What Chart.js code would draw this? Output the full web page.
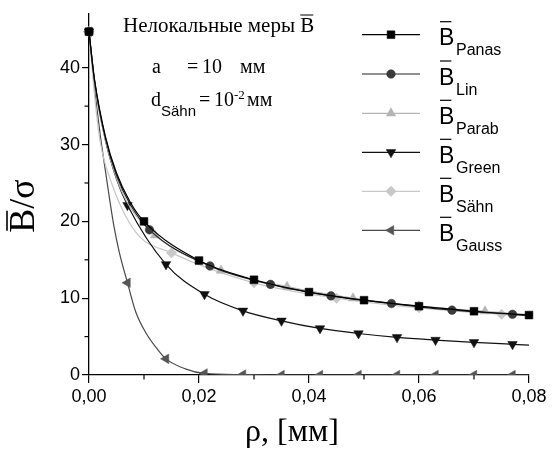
<!DOCTYPE html>
<html>
<head>
<meta charset="utf-8">
<script src="https://cdn.jsdelivr.net/npm/chart.js@4.4.1/dist/chart.umd.min.js"></script>
<style>
  html, body { margin: 0; padding: 0; background: #fff; }
  canvas { display: block; }
</style>
</head>
<body>
<canvas id="chart" width="552" height="453"></canvas>
<script>
// values (rho in mm, B/sigma)
const panasRho = [0, 0.001, 0.003, 0.005, 0.0075, 0.01, 0.02, 0.03, 0.04, 0.05, 0.06, 0.07, 0.08];
const panasVal = [44.7, 38.5, 31.0, 26.3, 22.5, 20.0, 14.9, 12.4, 10.8, 9.74, 8.96, 8.3, 7.8];
const panasMarks = [0, 0.01, 0.02, 0.03, 0.04, 0.05, 0.06, 0.07, 0.08];

const linRho = [0, 0.001, 0.003, 0.005, 0.0075, 0.011, 0.022, 0.033, 0.044, 0.055, 0.066, 0.077, 0.08];
const linVal = [44.7, 38.3, 30.8, 26.0, 22.2, 18.9, 14.2, 11.8, 10.3, 9.3, 8.44, 7.9, 7.75];
const linMarks = [0, 0.011, 0.022, 0.033, 0.044, 0.055, 0.066, 0.077];

const parabRho = [0, 0.001, 0.003, 0.005, 0.0075, 0.012, 0.024, 0.036, 0.048, 0.06, 0.072, 0.08];
const parabVal = [44.7, 38.0, 30.5, 25.6, 21.8, 18.2, 13.6, 11.5, 10.0, 8.96, 8.3, 7.85];
const parabMarks = [0, 0.012, 0.024, 0.036, 0.048, 0.06, 0.072];

const greenRho = [0, 0.001, 0.003, 0.005, 0.007, 0.014, 0.021, 0.028, 0.035, 0.042, 0.049, 0.056, 0.063, 0.07, 0.077, 0.08];
const greenVal = [44.7, 38.3, 30.5, 25.5, 22.1, 14.4, 10.5, 8.35, 7.05, 6.06, 5.4, 4.9, 4.55, 4.25, 4.0, 3.9];
const greenMarks = [0, 0.007, 0.014, 0.021, 0.028, 0.035, 0.042, 0.049, 0.056, 0.063, 0.07, 0.077];

const saehnRho = [0, 0.001, 0.002, 0.004, 0.0085, 0.015, 0.03, 0.045, 0.06, 0.075, 0.08];
const saehnVal = [44.7, 36.5, 30.5, 25.2, 18.6, 15.9, 12.0, 10.0, 8.74, 7.9, 7.7];
const saehnMarks = [0, 0.015, 0.03, 0.045, 0.06, 0.075];

const gaussRho = [0, 0.001, 0.002, 0.003, 0.0045, 0.0055, 0.007, 0.0085, 0.0105, 0.0125, 0.014, 0.0175, 0.021, 0.028, 0.035, 0.042, 0.049, 0.056, 0.063, 0.07, 0.077, 0.08];
const gaussVal = [44.7, 37.5, 31.5, 26.5, 19.5, 16.0, 12.0, 8.2, 5.3, 3.3, 2.1, 0.8, 0.2, 0.05, 0, 0, 0, 0, 0, 0, 0, 0];
const gaussMarks = [0, 0.007, 0.014, 0.021, 0.028, 0.035, 0.042, 0.049, 0.056, 0.063, 0.07, 0.077];

const seriesNames = ['Panas', 'Lin', 'Parab', 'Green', 'Sähn', 'Gauss'];
const xTicks = [0, 0.02, 0.04, 0.06, 0.08];
const yTicks = [0, 10, 20, 30, 40];

// styles for each series
const styles = [
  { line: '#000000', fill: '#000000', shape: 'rect', rot: 0, r: 5.5 },
  { line: '#222222', fill: '#3a3a3a', shape: 'circle', rot: 0, r: 4.3 },
  { line: '#b4b4b4', fill: '#b4b4b4', shape: 'triangle', rot: 0, r: 5.5 },
  { line: '#111111', fill: '#111111', shape: 'triangle', rot: 180, r: 5.5 },
  { line: '#c8c8c8', fill: '#c8c8c8', shape: 'rectRot', rot: 0, r: 5.2 },
  { line: '#4a4a4a', fill: '#555555', shape: 'triangle', rot: -90, r: 5.5 }
];

const raw = [
  [panasRho, panasVal, panasMarks],
  [linRho, linVal, linMarks],
  [parabRho, parabVal, parabMarks],
  [greenRho, greenVal, greenMarks],
  [saehnRho, saehnVal, saehnMarks],
  [gaussRho, gaussVal, gaussMarks]
];

const datasets = raw.map(([rho, val, marks], i) => {
  const s = styles[i];
  return {
    label: seriesNames[i],
    data: rho.map((r, k) => ({ x: r, y: val[k] })),
    borderColor: s.line,
    borderWidth: 1.2,
    backgroundColor: s.fill,
    pointBackgroundColor: s.fill,
    pointBorderColor: s.fill,
    pointBorderWidth: 0.5,
    pointStyle: s.shape,
    pointRotation: s.rot,
    pointRadius: ctx => marks.includes(rho[ctx.dataIndex]) ? s.r : 0,
    cubicInterpolationMode: 'monotone',
    clip: { left: 10, top: 10, right: 10, bottom: 0 }
  };
});

const SERIF = '"Liberation Serif", "Times New Roman", serif';
const SANS = '"Liberation Sans", Arial, sans-serif';

const extras = {
  id: 'extras',
  afterDraw(chart) {
    const ctx = chart.ctx;
    const xs = chart.scales.x, ys = chart.scales.y;
    ctx.save();
    ctx.strokeStyle = '#000';
    ctx.lineWidth = 1.2;
    // minor ticks
    [0.01, 0.03, 0.05, 0.07].forEach(v => {
      const px = xs.getPixelForValue(v);
      ctx.beginPath(); ctx.moveTo(px, ys.bottom); ctx.lineTo(px, ys.bottom + 4.5); ctx.stroke();
    });
    [5, 15, 25, 35, 45].forEach(v => {
      const py = ys.getPixelForValue(v);
      ctx.beginPath(); ctx.moveTo(xs.left, py); ctx.lineTo(xs.left - 4.5, py); ctx.stroke();
    });

    ctx.fillStyle = '#000';
    ctx.textBaseline = 'alphabetic';

    // x title
    ctx.font = '32px ' + SERIF;
    ctx.textAlign = 'left';
    ctx.fillText('ρ, [мм]', 245, 441);

    // y title, rotated
    ctx.save();
    ctx.translate(34, 206);
    ctx.rotate(-Math.PI / 2);
    ctx.font = '36px ' + SERIF;
    const wAll = ctx.measureText('B/σ').width;
    const wB = ctx.measureText('B').width;
    ctx.textAlign = 'left';
    ctx.fillText('B/σ', -wAll / 2, 0);
    ctx.lineWidth = 1.6;
    ctx.beginPath(); ctx.moveTo(-wAll / 2 + 2, -27); ctx.lineTo(-wAll / 2 + wB - 2, -27); ctx.stroke();
    ctx.restore();

    // annotation block
    ctx.font = '21px ' + SERIF;
    ctx.textAlign = 'left';
    const head = 'Нелокальные меры ';
    ctx.fillText(head + 'B', 123, 32);
    const hx = 123 + ctx.measureText(head).width;
    const hb = ctx.measureText('B').width;
    ctx.lineWidth = 1;
    ctx.beginPath(); ctx.moveTo(hx, 15); ctx.lineTo(hx + hb - 1, 15); ctx.stroke();

    ctx.font = '20px ' + SERIF;
    ctx.fillText('a', 152, 73);
    ctx.fillText('=', 187, 73);
    ctx.fillText('10', 202, 73);
    ctx.fillText('мм', 240, 73);

    ctx.fillText('d', 151, 106);
    ctx.font = '15px ' + SANS;
    ctx.fillText('Sähn', 161, 116);
    ctx.font = '20px ' + SERIF;
    ctx.fillText('=', 199, 106);
    ctx.fillText('10', 214, 106);
    ctx.font = '13px ' + SERIF;
    ctx.fillText('-2', 234, 99);
    ctx.font = '20px ' + SERIF;
    ctx.fillText('мм', 247, 106);

    // legend
    const rowY = [34.7, 74, 113.3, 152.3, 191.3, 230.3];
    chart.data.datasets.forEach((ds, i) => {
      const s = styles[i];
      const y = rowY[i];
      ctx.strokeStyle = s.line;
      ctx.lineWidth = 1.2;
      ctx.beginPath(); ctx.moveTo(362, y); ctx.lineTo(420, y); ctx.stroke();
      ctx.fillStyle = s.fill;
      ctx.strokeStyle = s.fill;
      ctx.lineWidth = 0.5;
      Chart.helpers.drawPoint(ctx, { pointStyle: s.shape, rotation: s.rot, radius: s.r, borderWidth: 0.5 }, 391, y);
      ctx.fillStyle = '#000';
      ctx.strokeStyle = '#000';
      ctx.font = '23px ' + SANS;
      ctx.fillText('B', 439, y + 10.5);
      const bw = ctx.measureText('B').width;
      ctx.lineWidth = 1.2;
      ctx.beginPath(); ctx.moveTo(440, y - 13); ctx.lineTo(440 + bw - 4, y - 13); ctx.stroke();
      ctx.font = '16px ' + SANS;
      ctx.fillText(ds.label, 456, y + 20.5);
    });
    ctx.restore();
  }
};

const fmt = v => Number(v).toFixed(2).replace('.', ',');

new Chart(document.getElementById('chart'), {
  type: 'line',
  data: { datasets },
  options: {
    responsive: false,
    animation: false,
    events: [],
    layout: { padding: { left: 0, right: 23, top: 14, bottom: 0 } },
    plugins: { legend: { display: false }, tooltip: { enabled: false } },
    scales: {
      x: {
        type: 'linear',
        min: xTicks[0],
        max: xTicks[xTicks.length - 1],
        afterFit: s => { s.height = 78; },
        afterBuildTicks: s => { s.ticks = xTicks.map(v => ({ value: v })); },
        ticks: {
          callback: v => fmt(v),
          color: '#000',
          font: { family: SANS, size: 18 },
          padding: 3,
          maxRotation: 0
        },
        grid: { drawOnChartArea: false, tickLength: 8, color: '#000', lineWidth: 1.2 },
        border: { color: '#000', width: 1.3 }
      },
      y: {
        min: 0,
        max: 47,
        afterFit: s => { s.width = 89; },
        afterBuildTicks: s => { s.ticks = yTicks.map(v => ({ value: v })); },
        ticks: {
          color: '#000',
          font: { family: SANS, size: 18 },
          padding: 2
        },
        grid: { drawOnChartArea: false, tickLength: 7, color: '#000', lineWidth: 1.2 },
        border: { color: '#000', width: 1.3 }
      }
    }
  },
  plugins: [extras]
});
</script>
</body>
</html>
